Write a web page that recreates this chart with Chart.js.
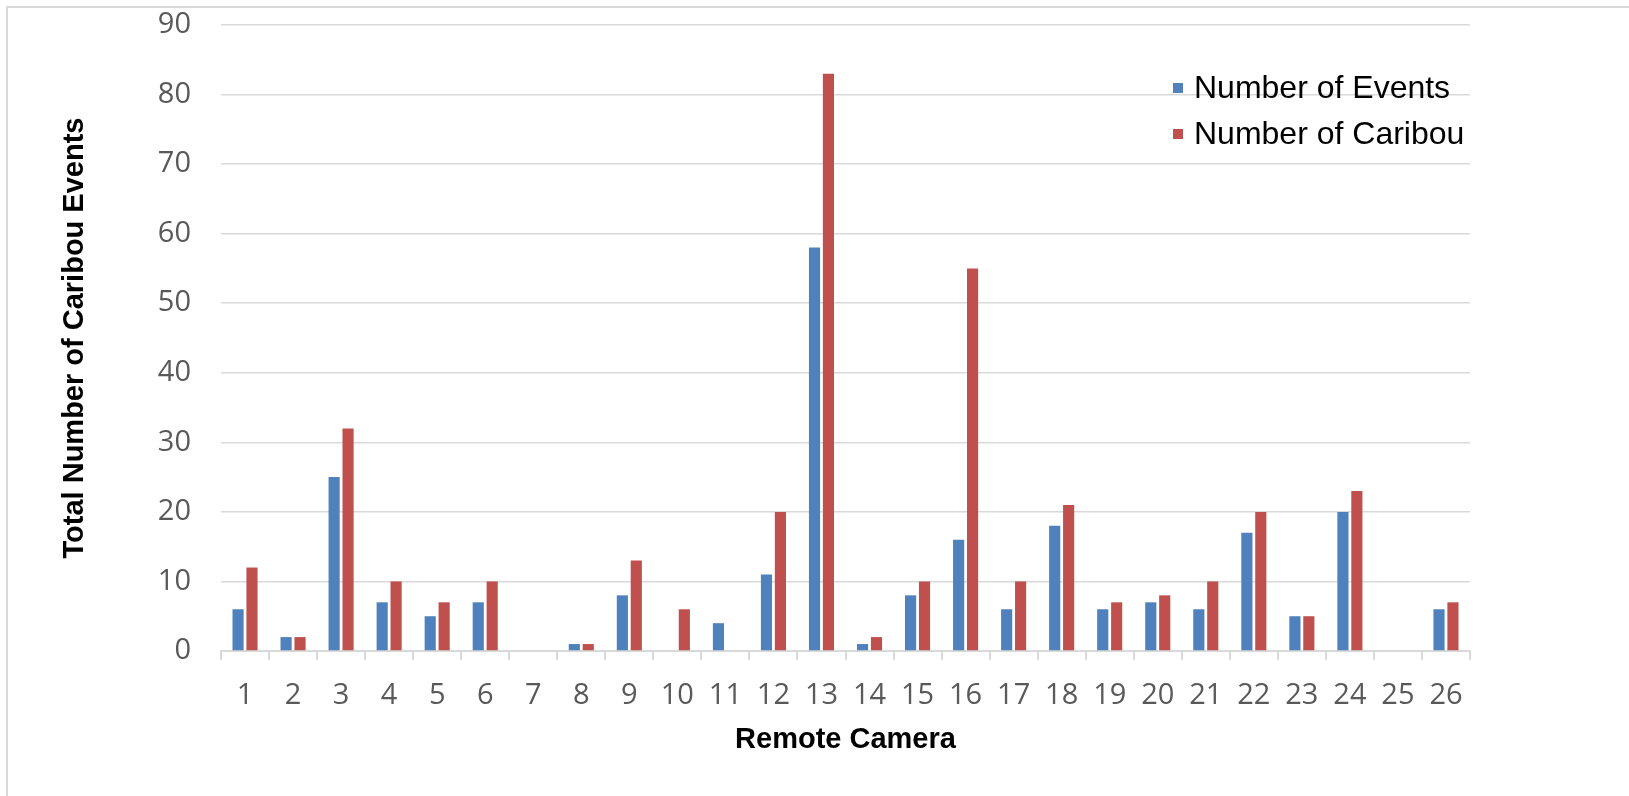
<!DOCTYPE html>
<html>
<head>
<meta charset="utf-8">
<script src="https://cdn.jsdelivr.net/npm/chart.js@4.4.1/dist/chart.umd.min.js"></script>
<style>
  body { margin: 0; background: #fff; }
  #wrap { position: relative; width: 1629px; height: 796px; overflow: hidden; }
  #frame { position: absolute; left: 6px; top: 6px; width: 1700px; height: 900px; border: 2px solid #d9d9d9; }
  #box { position: absolute; left: 0; top: 0; width: 1629px; height: 796px; }
</style>
</head>
<body>
<div id="wrap">
  <div id="frame"></div>
  <div id="box"><canvas id="BarChart"></canvas></div>
</div>
<script>
const cameras = ["1", "2", "3", "4", "5", "6", "7", "8", "9", "10", "11", "12", "13",
  "14", "15", "16", "17", "18", "19", "20", "21", "22", "23", "24", "25", "26"];
const events = [6, 2, 25, 7, 5, 7, 0, 1, 8, 0, 4, 11, 58, 1, 8, 16, 6, 18, 6, 7, 6, 17, 5, 20, 0, 6];
const caribou = [12, 2, 32, 10, 7, 10, 0, 1, 13, 6, 0, 20, 83, 2, 10, 55, 10, 21, 7, 8, 10, 20, 5, 23, 0, 7];
const yTicks = [0, 10, 20, 30, 40, 50, 60, 70, 80, 90];

const data = {
  labels: cameras,
  datasets: [
    {
      label: "Number of Events",
      data: events,
      backgroundColor: "#4F81BD",
      barPercentage: 0.8,
      categoryPercentage: 0.58,
    },
    {
      label: "Number of Caribou",
      data: caribou,
      backgroundColor: "#C0504D",
      barPercentage: 0.8,
      categoryPercentage: 0.58,
    },
  ],
};

// legend drawn inside the plot, top right
const innerLegend = {
  id: "innerLegend",
  afterDraw(chart) {
    const ctx = chart.ctx;
    const area = chart.chartArea;
    ctx.save();
    ctx.font = "32px 'Liberation Sans', Arial, sans-serif";
    ctx.textBaseline = "alphabetic";
    ctx.textAlign = "left";
    chart.data.datasets.forEach((ds, i) => {
      const base = area.top + 73 + i * 46;
      ctx.fillStyle = ds.backgroundColor;
      ctx.fillRect(area.right - 297, base - 15, 10, 10);
      ctx.fillStyle = "#000";
      ctx.fillText(ds.label, area.right - 276, base);
    });
    ctx.restore();
  },
};

// config
const config = {
  type: "bar",
  data,
  plugins: [innerLegend],
  options: {
    responsive: true,
    maintainAspectRatio: false,
    animation: false,
    layout: { padding: { left: 0, top: 25, right: 159, bottom: 0 } },
    plugins: {
      legend: { display: false },
      tooltip: { enabled: false },
    },
    scales: {
      x: {
        afterFit(scale) { scale.height = 145; },
        grid: {
          offset: true,
          drawOnChartArea: false,
          drawTicks: true,
          tickLength: 9,
          color: "#d9d9d9",
          lineWidth: 2,
        },
        border: { color: "#d9d9d9", width: 2 },
        ticks: {
          color: "#595959",
          font: { family: "'Open Sans', sans-serif", size: 29 },
          padding: 18,
          maxRotation: 0,
          autoSkip: false,
        },
        title: {
          display: true,
          text: "Remote Camera",
          color: "#000",
          font: { family: "'Liberation Sans', Arial, sans-serif", size: 29, weight: "bold" },
          padding: { top: 39, bottom: 39 },
        },
      },
      y: {
        min: 0,
        max: 90,
        afterFit(scale) {
          scale.width = 221;
          scale.paddingTop = 0;
          scale.paddingBottom = 0;
        },
        afterBuildTicks(scale) { scale.ticks = yTicks.map(v => ({ value: v })); },
        grid: { color: "#d9d9d9", lineWidth: 1.5, drawTicks: false },
        border: { display: false },
        ticks: {
          color: "#595959",
          font: { family: "'Open Sans', sans-serif", size: 29 },
          padding: 30,
        },
        title: {
          display: true,
          text: "Total Number of Caribou Events",
          color: "#000",
          font: { family: "'Liberation Sans', Arial, sans-serif", size: 29, weight: "bold" },
          padding: { top: 58, bottom: 58 },
        },
      },
    },
  },
};

const BarChart = new Chart(document.getElementById("BarChart"), config);
</script>
</body>
</html>
